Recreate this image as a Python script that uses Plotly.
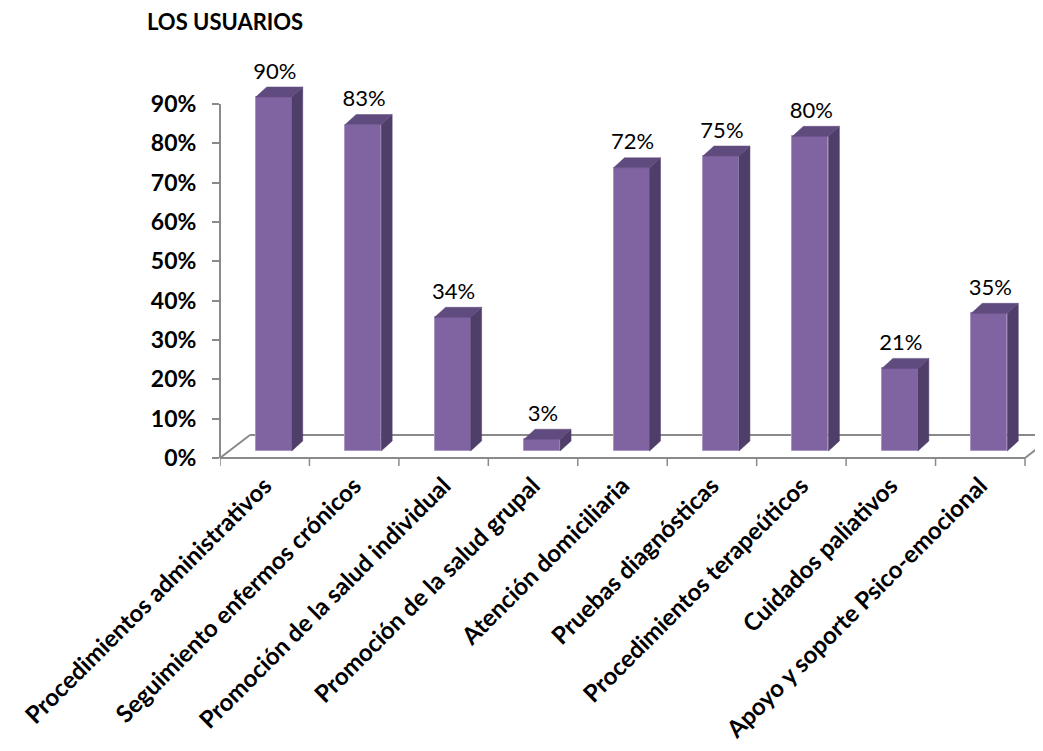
import plotly.graph_objects as go

# ---------------- data ----------------
categories = [
    "Procedimientos administrativos",
    "Seguimiento enfermos crónicos",
    "Promoción de la salud individual",
    "Promoción de la salud grupal",
    "Atención domiciliaria",
    "Pruebas diagnósticas",
    "Procedimientos terapeúticos",
    "Cuidados paliativos",
    "Apoyo y soporte Psico-emocional",
]
values = [90, 83, 34, 3, 72, 75, 80, 21, 35]
y_tick_vals = [0, 10, 20, 30, 40, 50, 60, 70, 80, 90]
y_tick_text = [f"{v}%" for v in y_tick_vals]
chart_title = "LOS USUARIOS"

# ---------------- geometry / style ----------------
PAGE_OFF = 8                     # default body margin of the html page
W, H = 1043 - PAGE_OFF, 751 - PAGE_OFF
FONT = "Lato"
plot_left = 220 - PAGE_OFF
cat_px = (1025 - 220) / 9.0          # pixels per category
px_per_unit = 354 / 90.0             # pixels per percentage point
zero_px = 458 - PAGE_OFF
margin_t = 12
margin_b = H - (zero_px + 8)
plot_h = H - margin_t - margin_b
y_min = -8 / px_per_unit
y_max = y_min + plot_h / px_per_unit
x_min = -0.5
x_max = x_min + (W - plot_left) / cat_px

n = len(categories)
shift_x = 9 / cat_px          # bar offset inside the floor depth
shift_y = 7 / px_per_unit
bw = 36 / cat_px              # bar width
ddx = 11 / cat_px             # bar depth
ddy = 10 / px_per_unit
fdx = 30 / cat_px             # floor depth
fdy = 23 / px_per_unit

front_col = "#8064A2"
side_col = "#4F3E69"
top_col = "#604B7F"
edge_col = "#A995C6"
axis_col = "#8A8A8A"

fig = go.Figure()

# front faces
fig.add_trace(go.Bar(
    x=[i + shift_x for i in range(n)], y=values, base=shift_y, width=bw,
    marker=dict(color=front_col, line=dict(color=edge_col, width=1)),
    hoverinfo="skip", showlegend=False,
))

# side and top faces
for i, v in enumerate(values):
    x0 = i + shift_x - bw / 2
    x1 = x0 + bw
    b = shift_y
    t = shift_y + v
    fig.add_trace(go.Scatter(
        x=[x1, x1 + ddx, x1 + ddx, x1, x1],
        y=[b, b + ddy, t + ddy, t, b],
        fill="toself", fillcolor=side_col, mode="lines",
        line=dict(color=side_col, width=0.5), hoverinfo="skip", showlegend=False,
    ))
    fig.add_trace(go.Scatter(
        x=[x0, x1, x1 + ddx, x0 + ddx, x0],
        y=[t, t, t + ddy, t + ddy, t],
        fill="toself", fillcolor=top_col, mode="lines",
        line=dict(color=top_col, width=0.5), hoverinfo="skip", showlegend=False,
    ))

# data labels
fig.add_trace(go.Scatter(
    x=[i + shift_x + 1 / cat_px for i in range(n)],
    y=[shift_y + v + ddy + 3 / px_per_unit for v in values],
    mode="text", text=[f"{v}%" for v in values], textposition="top center",
    textfont=dict(family=FONT, size=22, color="#000000"),
    cliponaxis=False, hoverinfo="skip", showlegend=False,
))

# floor, axis line and category ticks (drawn below the bars)
shapes = []
line_style = dict(color=axis_col, width=2)
shapes.append(dict(type="line", xref="x", yref="y", x0=x_min, y0=0, x1=n - 0.5, y1=0, line=line_style, layer="below"))
shapes.append(dict(type="line", xref="x", yref="y", x0=x_min, y0=0, x1=x_min + fdx, y1=fdy, line=line_style, layer="below"))
shapes.append(dict(type="line", xref="x", yref="y", x0=x_min + fdx, y0=fdy, x1=n + 1, y1=fdy, line=line_style, layer="below"))
shapes.append(dict(type="line", xref="x", yref="y", x0=n - 0.5, y0=0, x1=n - 0.5 + fdx, y1=fdy, line=line_style, layer="below"))
for k in range(n + 1):
    xk = x_min + k
    shapes.append(dict(type="line", xref="x", yref="y", x0=xk, y0=0, x1=xk, y1=-8 / px_per_unit,
                       line=dict(color=axis_col, width=1.5), layer="below"))
shapes.append(dict(type="line", xref="paper", yref="y", x0=0, y0=0, x1=0, y1=y_tick_vals[-1],
                   line=line_style, layer="below"))

fig.update_layout(
    width=W, height=H,
    margin=dict(l=plot_left, r=0, t=margin_t, b=margin_b, autoexpand=False),
    paper_bgcolor="white", plot_bgcolor="white",
    showlegend=False, bargap=0,
    shapes=shapes,
    title=dict(text=chart_title, x=(147 - PAGE_OFF) / W, xanchor="left", xref="container",
               y=1 - (22 - PAGE_OFF) / H, yanchor="middle", yref="container",
               pad=dict(l=0, r=0, t=0, b=0),
               font=dict(family=FONT, size=22, color="#000000", weight="bold")),
    xaxis=dict(range=[x_min, x_max], tickmode="array", tickvals=list(range(n)),
               ticktext=categories, tickangle=-45, showgrid=False, zeroline=False,
               showline=False, ticks="", automargin=False,
               tickfont=dict(family=FONT, size=24, color="#000000", weight="bold")),
    yaxis=dict(range=[y_min, y_max], tickmode="array", tickvals=y_tick_vals,
               ticktext=y_tick_text, showgrid=False, zeroline=False, showline=False,
               ticks="outside", ticklen=7, tickwidth=1.5, tickcolor=axis_col,
               ticklabelstandoff=11, automargin=False,
               tickfont=dict(family=FONT, size=23, color="#000000", weight="bold")),
)

fig.write_html("out.html")
